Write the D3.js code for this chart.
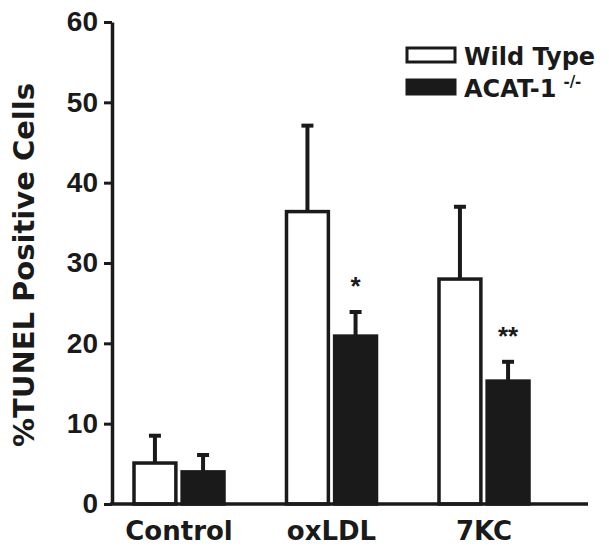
<!DOCTYPE html>
<html>
<head>
<meta charset="utf-8">
<script src="https://cdn.jsdelivr.net/npm/d3@7"></script>
<style>
  body { margin: 0; background: #fff; }
  text { font-family: "DejaVu Sans", "Liberation Sans", Arial, sans-serif; font-weight: bold; fill: #1a1a1a; }
</style>
</head>
<body>
<div id="chart"></div>
<script>
  "use strict";

  /* <!-- Data --> */
  var groups = ["Control", "oxLDL", "7KC"];
  var seriesNames = ["Wild Type", "ACAT-1"];
  var wildType = [5.1, 36.4, 28.0];
  var wildTypeErr = [3.4, 10.7, 9.0];
  var acat = [4.0, 20.9, 15.3];
  var acatErr = [2.1, 3.0, 2.4];
  var marks = ["", "*", "**"];
  var yTicks = [0, 10, 20, 30, 40, 50, 60];

  var W = 609, H = 550, ink = "#1a1a1a";

  var svg = d3.select("#chart").append("svg")
    .attr("width", W).attr("height", H);

  /* <!-- Scales --> */
  var y = d3.scaleLinear().domain([0, 60]).range([504, 22]);
  var x0 = d3.scalePoint().domain(groups).range([179, 484]);
  var x1 = d3.scaleBand().domain(seriesNames).range([-45, 45]).paddingInner(0.13);

  var rows = [];
  groups.forEach((g, i) => {
    rows.push({ group: g, key: seriesNames[0], value: wildType[i], err: wildTypeErr[i], fill: "#fff", mark: "" });
    rows.push({ group: g, key: seriesNames[1], value: acat[i], err: acatErr[i], fill: ink, mark: marks[i] });
  });

  /* <!-- Y axis --> */
  var yAxis = svg.append("g")
    .attr("transform", "translate(112,0)")
    .call(d3.axisLeft(y).tickValues(yTicks).tickSize(8).tickPadding(6).tickSizeOuter(0));
  yAxis.select(".domain").attr("stroke", ink).attr("stroke-width", 3.5);
  yAxis.selectAll(".tick line").attr("stroke", ink).attr("stroke-width", 3);
  yAxis.selectAll(".tick text")
    .style("font-size", "28px")
    .style("font-family", "'Liberation Sans', Arial, sans-serif")
    .attr("fill", ink);

  /* <!-- Bars --> */
  var bar = svg.append("g").selectAll("g.bar").data(rows).enter().append("g");

  // error bars (upper only)
  bar.append("line")
    .attr("x1", d => x0(d.group) + x1(d.key) + x1.bandwidth() / 2)
    .attr("x2", d => x0(d.group) + x1(d.key) + x1.bandwidth() / 2)
    .attr("y1", d => y(d.value))
    .attr("y2", d => y(d.value + d.err))
    .attr("stroke", ink).attr("stroke-width", 4);
  bar.append("line")
    .attr("x1", d => x0(d.group) + x1(d.key) + x1.bandwidth() / 2 - 6)
    .attr("x2", d => x0(d.group) + x1(d.key) + x1.bandwidth() / 2 + 6)
    .attr("y1", d => y(d.value + d.err))
    .attr("y2", d => y(d.value + d.err))
    .attr("stroke", ink).attr("stroke-width", 4);

  bar.append("rect")
    .attr("x", d => x0(d.group) + x1(d.key))
    .attr("y", d => y(d.value))
    .attr("width", x1.bandwidth())
    .attr("height", d => y(0) - y(d.value))
    .attr("fill", d => d.fill)
    .attr("stroke", ink).attr("stroke-width", 3.5);

  bar.append("text")
    .attr("x", d => x0(d.group) + x1(d.key) + x1.bandwidth() / 2)
    .attr("y", d => y(d.value + d.err) - 17)
    .attr("text-anchor", "middle")
    .style("font-size", "26px")
    .style("font-family", "'Liberation Sans', Arial, sans-serif")
    .text(d => d.mark);

  /* <!-- X axis --> */
  svg.append("line")
    .attr("x1", 110).attr("x2", 588)
    .attr("y1", y(0)).attr("y2", y(0))
    .attr("stroke", ink).attr("stroke-width", 3.5);

  svg.append("g").selectAll("text").data(groups).enter().append("text")
    .attr("x", d => x0(d))
    .attr("y", 540)
    .attr("text-anchor", "middle")
    .style("font-size", "26px")
    .text(d => d);

  /* <!-- Y title --> */
  svg.append("text")
    .attr("transform", "translate(34,265) rotate(-90)")
    .attr("text-anchor", "middle")
    .style("font-size", "29px")
    .text("%TUNEL Positive Cells");

  /* <!-- Legend --> */
  var legend = svg.append("g").attr("transform", "translate(407,48)");
  var item = legend.selectAll("g").data(seriesNames).enter().append("g")
    .attr("transform", (d, i) => `translate(0,${i * 32})`);
  item.append("rect")
    .attr("width", 48).attr("height", 14)
    .attr("fill", (d, i) => i ? ink : "#fff")
    .attr("stroke", ink).attr("stroke-width", 3);
  var label = item.append("text")
    .attr("x", 57).attr("y", 17)
    .style("font-size", "24px")
    .text(d => d);
  label.filter((d, i) => i === 1).append("tspan")
    .attr("dx", 7).attr("dy", -10)
    .style("font-size", "15px")
    .text("-/-");
</script>
</body>
</html>
